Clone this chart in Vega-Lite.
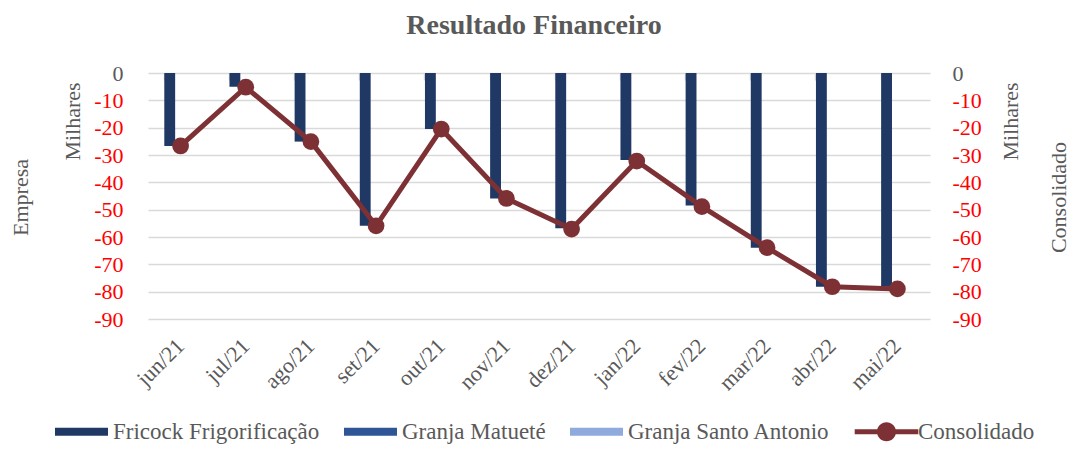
{
  "$schema": "https://vega.github.io/schema/vega-lite/v6.json",
  "width": 782,
  "height": 246,
  "autosize": {"type": "none"},
  "padding": {"left": 148, "top": 73, "right": 140, "bottom": 133},
  "background": "white",
  "config": {"view": {"stroke": null}, "font": "Liberation Serif"},
  "title": {
    "text": "Resultado Financeiro",
    "font": "Liberation Serif",
    "fontSize": 28,
    "fontWeight": "bold",
    "color": "#595959",
    "anchor": "middle",
    "offset": 22,
    "dx": -5
  },
  "data": {
    "values": [
      {"mes": "jun/21", "Fricock Frigorificação": -26.7, "Granja Matueté": 0, "Granja Santo Antonio": 0, "Consolidado": -26.7},
      {"mes": "jul/21", "Fricock Frigorificação": -5.0, "Granja Matueté": 0, "Granja Santo Antonio": 0, "Consolidado": -5.2},
      {"mes": "ago/21", "Fricock Frigorificação": -25.1, "Granja Matueté": 0, "Granja Santo Antonio": 0, "Consolidado": -25.1},
      {"mes": "set/21", "Fricock Frigorificação": -55.9, "Granja Matueté": 0, "Granja Santo Antonio": 0, "Consolidado": -55.9},
      {"mes": "out/21", "Fricock Frigorificação": -20.5, "Granja Matueté": 0, "Granja Santo Antonio": 0, "Consolidado": -20.5},
      {"mes": "nov/21", "Fricock Frigorificação": -45.9, "Granja Matueté": 0, "Granja Santo Antonio": 0, "Consolidado": -45.9},
      {"mes": "dez/21", "Fricock Frigorificação": -56.8, "Granja Matueté": 0, "Granja Santo Antonio": 0, "Consolidado": -57.1},
      {"mes": "jan/22", "Fricock Frigorificação": -31.8, "Granja Matueté": 0, "Granja Santo Antonio": 0, "Consolidado": -32.2},
      {"mes": "fev/22", "Fricock Frigorificação": -48.5, "Granja Matueté": 0, "Granja Santo Antonio": 0, "Consolidado": -48.9},
      {"mes": "mar/22", "Fricock Frigorificação": -63.9, "Granja Matueté": 0, "Granja Santo Antonio": 0, "Consolidado": -63.9},
      {"mes": "abr/22", "Fricock Frigorificação": -78.2, "Granja Matueté": 0, "Granja Santo Antonio": 0, "Consolidado": -78.2},
      {"mes": "mai/22", "Fricock Frigorificação": -78.2, "Granja Matueté": 0, "Granja Santo Antonio": 0, "Consolidado": -79.0}
    ]
  },
  "layer": [
    {
      "transform": [
        {"fold": ["Fricock Frigorificação", "Granja Matueté", "Granja Santo Antonio"], "as": ["serie", "valor"]}
      ],
      "mark": {"type": "bar"},
      "encoding": {
        "x": {
          "field": "mes",
          "type": "nominal",
          "sort": null,
          "scale": {"paddingInner": 0.5, "paddingOuter": 0.25},
          "axis": {
            "orient": "bottom",
            "title": null,
            "domain": false,
            "ticks": false,
            "grid": false,
            "labelAngle": -45,
            "labelAlign": "right",
            "labelBaseline": "middle",
            "labelPadding": 23,
            "labelFont": "Liberation Serif",
            "labelFontSize": 22,
            "labelColor": "#595959"
          }
        },
        "xOffset": {
          "field": "serie",
          "type": "nominal",
          "sort": ["Fricock Frigorificação", "Granja Matueté", "Granja Santo Antonio"]
        },
        "y": {
          "field": "valor",
          "type": "quantitative",
          "scale": {"domain": [-90, 0], "nice": false},
          "axis": {
            "orient": "left",
            "values": [0, -10, -20, -30, -40, -50, -60, -70, -80, -90],
            "labelExpr": "'' + datum.value",
            "domain": false,
            "ticks": false,
            "grid": true,
            "gridColor": "#D9D9D9",
            "gridWidth": 1.5,
            "labelPadding": 25,
            "labelFont": "Liberation Serif",
            "labelFontSize": 22,
            "labelColor": {"condition": {"test": "datum.value < 0", "value": "#FF0000"}, "value": "#595959"},
            "title": "Empresa",
            "titleFont": "Liberation Serif",
            "titleFontSize": 22,
            "titleFontWeight": "normal",
            "titleColor": "#595959",
            "titleAngle": 270,
            "titleAlign": "center",
            "titleBaseline": "middle",
            "titleX": -128,
            "titleY": 124
          }
        },
        "color": {
          "field": "serie",
          "type": "nominal",
          "scale": {
            "domain": ["Fricock Frigorificação", "Granja Matueté", "Granja Santo Antonio", "Consolidado"],
            "range": ["#1F3864", "#2F5597", "#8FAADC", "#7D3135"]
          },
          "legend": {
            "orient": "none",
            "legendX": -93,
            "legendY": 332,
            "direction": "horizontal",
            "columns": 4,
            "title": null,
            "labelFont": "Liberation Serif",
            "labelFontSize": 23,
            "labelColor": "#595959",
            "labelLimit": 0,
            "labelOffset": 5,
            "columnPadding": 24,
            "symbolSize": 2809,
            "symbolStrokeWidth": 0,
            "encode": {
              "symbols": {
                "update": {
                  "shape": {"signal": "datum.value === 'Consolidado' ? 'M-1.2,-0.095H1.2V0.095H-1.2Z M-0.36,0A0.36,0.36,0,1,1,0.36,0A0.36,0.36,0,1,1,-0.36,0Z' : 'M-1,-0.15H1V0.15H-1Z'"},
                  "fill": {"scale": "color", "field": "value"},
                  "stroke": {"value": "transparent"},
                  "opacity": {"value": 1},
                  "fillOpacity": {"value": 1}
                }
              }
            }
          }
        }
      }
    },
    {
      "mark": {"type": "line", "strokeWidth": 5, "point": {"filled": true, "size": 280, "opacity": 1}},
      "encoding": {
        "x": {
          "field": "mes",
          "type": "nominal",
          "sort": null,
          "axis": {
            "orient": "top",
            "title": null,
            "labels": false,
            "domain": false,
            "grid": false,
            "ticks": true,
            "bandPosition": 0,
            "tickSize": -7,
            "tickColor": "#D9D9D9",
            "tickWidth": 1.5
          }
        },
        "y": {
          "field": "Consolidado",
          "type": "quantitative",
          "scale": {"domain": [-90, 0], "nice": false},
          "axis": {
            "orient": "right",
            "values": [0, -10, -20, -30, -40, -50, -60, -70, -80, -90],
            "labelExpr": "'' + datum.value",
            "domain": false,
            "ticks": false,
            "grid": false,
            "labelPadding": 22,
            "labelFont": "Liberation Serif",
            "labelFontSize": 22,
            "labelColor": {"condition": {"test": "datum.value < 0", "value": "#FF0000"}, "value": "#595959"},
            "title": "Consolidado",
            "titleFont": "Liberation Serif",
            "titleFontSize": 22,
            "titleFontWeight": "normal",
            "titleColor": "#595959",
            "titleAngle": 270,
            "titleAlign": "center",
            "titleBaseline": "middle",
            "titleX": 128,
            "titleY": 124
          }
        },
        "color": {"datum": "Consolidado", "type": "nominal"}
      }
    },
    {
      "mark": {"type": "line", "opacity": 0},
      "encoding": {
        "x": {"field": "mes", "type": "nominal", "sort": null, "axis": null},
        "y": {
          "field": "Consolidado",
          "type": "quantitative",
          "scale": {"domain": [-90, 0], "nice": false},
          "axis": {
            "orient": "left",
            "labels": false,
            "ticks": false,
            "domain": false,
            "grid": false,
            "title": "Milhares",
            "titleFont": "Liberation Serif",
            "titleFontSize": 22,
            "titleFontWeight": "normal",
            "titleColor": "#595959",
            "titleAngle": 270,
            "titleAlign": "center",
            "titleBaseline": "middle",
            "titleX": -76,
            "titleY": 48
          }
        }
      }
    },
    {
      "mark": {"type": "line", "opacity": 0},
      "encoding": {
        "x": {"field": "mes", "type": "nominal", "sort": null, "axis": null},
        "y": {
          "field": "Consolidado",
          "type": "quantitative",
          "scale": {"domain": [-90, 0], "nice": false},
          "axis": {
            "orient": "right",
            "labels": false,
            "ticks": false,
            "domain": false,
            "grid": false,
            "title": "Milhares",
            "titleFont": "Liberation Serif",
            "titleFontSize": 22,
            "titleFontWeight": "normal",
            "titleColor": "#595959",
            "titleAngle": 270,
            "titleAlign": "center",
            "titleBaseline": "middle",
            "titleX": 80,
            "titleY": 48
          }
        }
      }
    }
  ],
  "resolve": {
    "scale": {"y": "independent"},
    "axis": {"x": "independent", "y": "independent"}
  }
}
